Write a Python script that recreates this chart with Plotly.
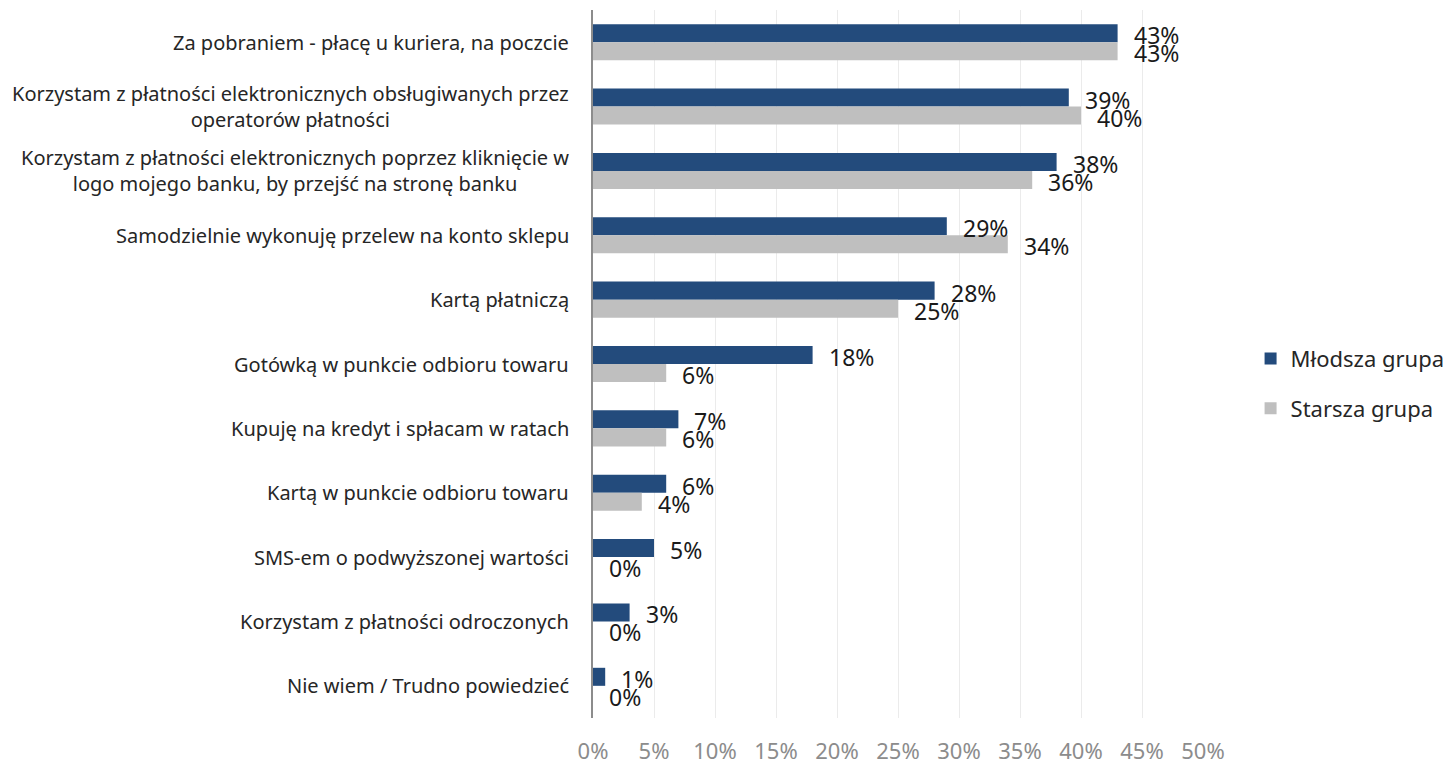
import plotly.graph_objects as go

# Payment methods (top to bottom) and shares per age group, in %
categories = [
    "Za pobraniem - płacę u kuriera, na poczcie",
    "Korzystam z płatności elektronicznych obsługiwanych przez<br>operatorów płatności",
    "Korzystam z płatności elektronicznych poprzez kliknięcie w<br>logo mojego banku, by przejść na stronę banku",
    "Samodzielnie wykonuję przelew na konto sklepu",
    "Kartą płatniczą",
    "Gotówką w punkcie odbioru towaru",
    "Kupuję na kredyt i spłacam w ratach",
    "Kartą w punkcie odbioru towaru",
    "SMS-em o podwyższonej wartości",
    "Korzystam z płatności odroczonych",
    "Nie wiem / Trudno powiedzieć",
]
mlodsza = [43, 39, 38, 29, 28, 18, 7, 6, 5, 3, 1]
starsza = [43, 40, 36, 34, 25, 6, 6, 4, 0, 0, 0]
series_names = ["Młodsza grupa", "Starsza grupa"]
x_ticks = [0, 5, 10, 15, 20, 25, 30, 35, 40, 45, 50]

NAVY = "#234B7C"
GREY = "#BFBFBF"
FONT = "Noto Sans"

fig = go.Figure()
for name, vals, col in [(series_names[0], mlodsza, NAVY), (series_names[1], starsza, GREY)]:
    fig.add_trace(go.Bar(
        y=categories, x=vals, name=name, orientation="h",
        marker=dict(color=col, line=dict(width=0)),
        legendgroup=name, hoverinfo="x+y",
    ))

annotations = []
# value labels next to each bar end
for vals, yshift in [(mlodsza, 7), (starsza, -11)]:
    for cat, v in zip(categories, vals):
        annotations.append(dict(
            x=v, y=cat, xref="x", yref="y", text=f"{v}%", showarrow=False,
            xanchor="left", yanchor="middle", xshift=14, yshift=yshift,
            font=dict(family=FONT, size=23, color="#1a1a1a"),
        ))
# category labels, centred lines like a wrapped text box
for cat in categories:
    annotations.append(dict(
        x=0, y=cat, xref="paper", yref="y", text=cat, showarrow=False,
        xanchor="right", yanchor="middle", xshift=-22, align="center",
        font=dict(family=FONT, size=20, color="#262626"),
    ))

fig.update_layout(
    width=1455, height=765,
    margin=dict(l=593, r=252, t=10, b=47, autoexpand=False),
    paper_bgcolor="white", plot_bgcolor="white",
    barmode="group", bargap=0.44, bargroupgap=0,
    font=dict(family=FONT),
    annotations=annotations,
    showlegend=True,
    legend=dict(
        x=1.078, y=0.472, xanchor="left", yanchor="middle",
        font=dict(family=FONT, size=22, color="#262626"),
        tracegroupgap=18, traceorder="grouped",
        bgcolor="rgba(0,0,0,0)",
    ),
    xaxis=dict(
        range=[0, 50], tickvals=x_ticks, ticktext=[f"{t}%" for t in x_ticks],
        showgrid=True, gridcolor="#EBEBEB", gridwidth=1,
        zeroline=False, showline=False, ticks="",
        ticklabelstandoff=18, automargin=False,
        tickfont=dict(family=FONT, size=22, color="#8C8C8C"),
        fixedrange=True,
    ),
    yaxis=dict(
        autorange="reversed", showticklabels=False, ticks="",
        showline=True, linecolor="#8C8C8C", linewidth=2,
        showgrid=False, fixedrange=True, automargin=False,
    ),
)

fig.write_html("out.html")
